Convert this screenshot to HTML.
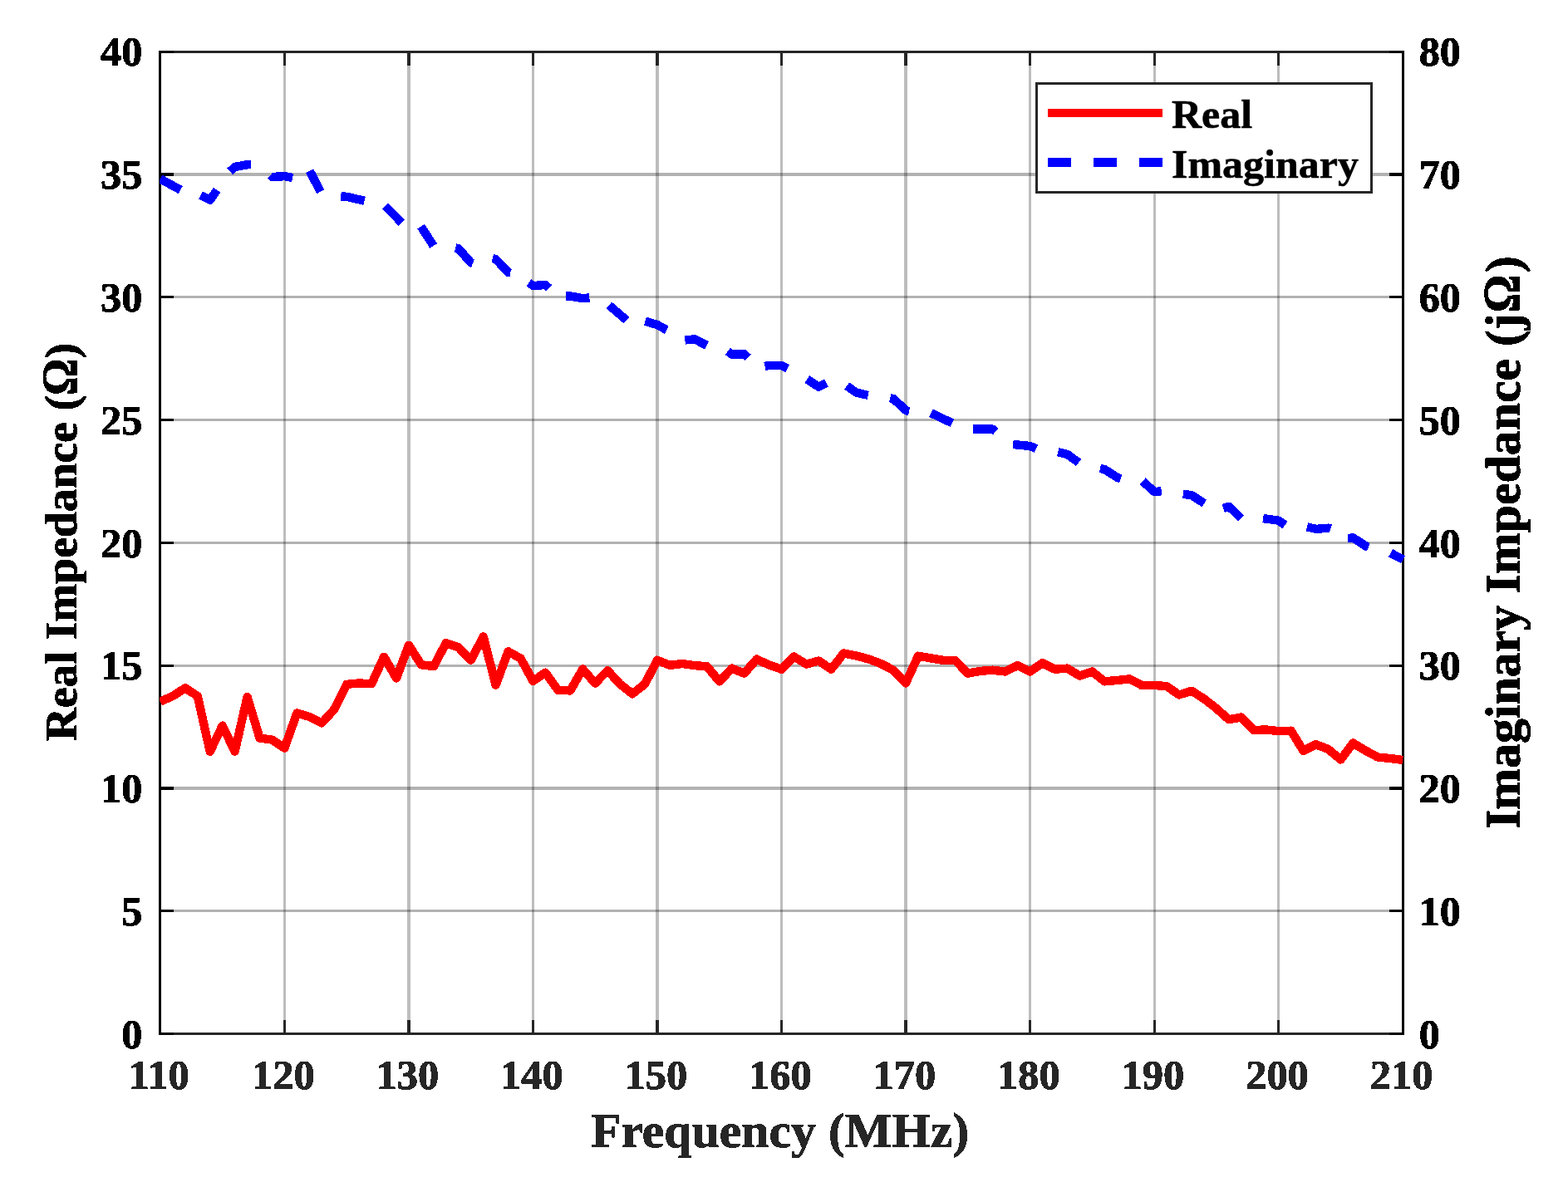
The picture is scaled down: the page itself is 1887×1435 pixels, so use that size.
<!DOCTYPE html>
<html lang="en"><head><meta charset="utf-8"><title>Impedance vs Frequency</title>
<style>
html,body{margin:0;padding:0;background:#fff;}
body{width:1887px;height:1435px;overflow:hidden;}
svg{display:block;}
text{font-family:"Liberation Serif","DejaVu Serif",serif;font-weight:bold;}
</style></head><body>
<svg width="1887" height="1435" viewBox="0 0 1887 1435">
<rect x="0" y="0" width="1887" height="1435" fill="#ffffff"/>
<g fill="#262626" fill-opacity="0.3" shape-rendering="crispEdges">
<rect x="341" y="64" width="3" height="1179"/>
<rect x="490" y="64" width="4" height="1179"/>
<rect x="640" y="64" width="3" height="1179"/>
<rect x="789" y="64" width="4" height="1179"/>
<rect x="939" y="64" width="3" height="1179"/>
<rect x="1088" y="64" width="4" height="1179"/>
<rect x="1238" y="64" width="3" height="1179"/>
<rect x="1388" y="64" width="3" height="1179"/>
<rect x="1537" y="64" width="3" height="1179"/>
</g>
<g fill="#000000" fill-opacity="0.3" shape-rendering="crispEdges">
<rect x="194" y="1095" width="1493" height="3"/>
<rect x="194" y="947" width="1493" height="4"/>
<rect x="194" y="800" width="1493" height="3"/>
<rect x="194" y="652" width="1493" height="3"/>
<rect x="194" y="504" width="1493" height="3"/>
<rect x="194" y="356" width="1493" height="3"/>
<rect x="194" y="208" width="1493" height="4"/>
</g>
<g fill="#262626" shape-rendering="crispEdges">
<rect x="191" y="1243" width="1499" height="3"/>
<rect x="191" y="61" width="1499" height="3"/>
<rect x="341" y="1228" width="3" height="15"/>
<rect x="341" y="64" width="3" height="15"/>
<rect x="490" y="1228" width="4" height="15"/>
<rect x="490" y="64" width="4" height="15"/>
<rect x="640" y="1228" width="3" height="15"/>
<rect x="640" y="64" width="3" height="15"/>
<rect x="789" y="1228" width="4" height="15"/>
<rect x="789" y="64" width="4" height="15"/>
<rect x="939" y="1228" width="3" height="15"/>
<rect x="939" y="64" width="3" height="15"/>
<rect x="1088" y="1228" width="4" height="15"/>
<rect x="1088" y="64" width="4" height="15"/>
<rect x="1238" y="1228" width="3" height="15"/>
<rect x="1238" y="64" width="3" height="15"/>
<rect x="1388" y="1228" width="3" height="15"/>
<rect x="1388" y="64" width="3" height="15"/>
<rect x="1537" y="1228" width="3" height="15"/>
<rect x="1537" y="64" width="3" height="15"/>
</g>
<g fill="#000000" shape-rendering="crispEdges">
<rect x="191" y="61" width="3" height="1185"/>
<rect x="1687" y="61" width="3" height="1185"/>
<rect x="194" y="1243" width="15" height="3"/>
<rect x="1672" y="1243" width="15" height="3"/>
<rect x="194" y="1095" width="15" height="3"/>
<rect x="1672" y="1095" width="15" height="3"/>
<rect x="194" y="947" width="15" height="4"/>
<rect x="1672" y="947" width="15" height="4"/>
<rect x="194" y="800" width="15" height="3"/>
<rect x="1672" y="800" width="15" height="3"/>
<rect x="194" y="652" width="15" height="3"/>
<rect x="1672" y="652" width="15" height="3"/>
<rect x="194" y="504" width="15" height="3"/>
<rect x="1672" y="504" width="15" height="3"/>
<rect x="194" y="356" width="15" height="3"/>
<rect x="1672" y="356" width="15" height="3"/>
<rect x="194" y="208" width="15" height="4"/>
<rect x="1672" y="208" width="15" height="4"/>
<rect x="194" y="61" width="15" height="3"/>
<rect x="1672" y="61" width="15" height="3"/>
</g>
<defs>
<clipPath id="clipRed"><rect x="192" y="0" width="1497" height="1435"/></clipPath>
<clipPath id="clipBlue"><rect x="192" y="0" width="1600" height="1435"/></clipPath>
</defs>
<g fill="none" stroke-linejoin="round" stroke-linecap="butt" shape-rendering="crispEdges">
<polyline clip-path="url(#clipRed)" stroke="#ff0000" stroke-width="10.4" points="192.9,844.6 207.9,838.0 222.8,828.3 237.8,838.0 252.7,904.8 267.7,873.6 282.6,904.7 297.6,839.0 312.5,888.5 327.5,890.6 342.4,900.6 357.4,858.4 372.3,862.9 387.3,870.4 402.2,854.0 417.2,823.9 432.2,822.4 447.1,823.3 462.1,790.7 477.0,816.5 492.0,776.7 506.9,800.2 521.9,802.1 536.8,774.1 551.8,779.4 566.7,794.6 581.7,766.5 596.6,824.6 611.6,784.3 626.5,792.6 641.5,819.9 656.4,809.7 671.4,830.8 686.3,831.4 701.3,805.5 716.2,822.6 731.2,807.2 746.1,823.5 761.1,835.3 776.0,823.5 791.0,794.8 806.0,800.9 820.9,799.0 835.9,801.1 850.8,802.3 865.8,820.4 880.7,804.6 895.7,810.6 910.6,793.6 925.6,800.6 940.5,805.7 955.5,790.6 970.4,799.5 985.4,795.6 1000.3,805.7 1015.3,786.5 1030.2,789.4 1045.2,793.4 1060.1,799.0 1075.1,806.7 1090.0,822.4 1105.0,789.7 1119.9,792.3 1134.9,794.8 1149.8,795.3 1164.8,810.6 1179.8,807.9 1194.7,806.7 1209.7,808.5 1224.6,801.2 1239.6,808.5 1254.5,798.2 1269.5,805.7 1284.4,804.6 1299.4,813.6 1314.3,808.5 1329.3,820.4 1344.2,819.0 1359.2,817.4 1374.1,825.0 1389.1,825.0 1404.0,826.1 1419.0,836.5 1433.9,831.7 1448.9,841.2 1463.8,852.8 1478.8,866.2 1493.7,863.5 1508.7,879.1 1523.6,878.4 1538.6,880.2 1553.6,879.7 1568.5,903.8 1583.5,896.2 1598.4,901.9 1613.4,914.5 1628.3,894.5 1643.3,903.6 1658.2,911.6 1673.2,913.0 1688.1,915.0"/>
<g clip-path="url(#clipBlue)" stroke="#0000ff" stroke-width="10.4">
<polyline points="192.9,215.3 217.3,228.7"/>
<polyline points="241.4,235.1 252.8,240.6 261.1,228.7"/>
<polyline points="276.7,206.5 282.8,200.9 297.7,198.2 302.4,198.3"/>
<polyline points="325.5,211.1 327.5,212.9 342.5,212.2 352.1,213.9"/>
<polyline points="372.8,205.8 385.7,230.9"/>
<polyline points="410.3,236.3 417.4,236.8 438.6,241.8"/>
<polyline points="463.5,247.9 483.2,267.9"/>
<polyline points="506.6,272.6 521.7,296.0"/>
<polyline points="548.2,298.5 551.9,299.4 566.8,316.3 569.0,317.2"/>
<polyline points="592.8,311.1 596.7,312.1 611.9,328.0 614.3,328.4"/>
<polyline points="636.4,340.4 641.6,344.0 656.5,343.0 660.6,346.9"/>
<polyline points="681.0,356.5 686.4,356.5 701.5,359.2 709.3,358.4"/>
<polyline points="732.9,367.4 754.0,385.5"/>
<polyline points="776.4,386.7 791.2,391.1 802.4,397.3"/>
<polyline points="824.4,409.4 836.1,408.4 850.5,415.8"/>
<polyline points="875.8,422.9 880.9,426.7 895.8,426.3 900.1,430.4"/>
<polyline points="920.4,440.9 925.8,439.7 940.8,440.1 947.9,443.6"/>
<polyline points="971.3,456.5 985.2,465.7 994.4,460.9"/>
<polyline points="1019.1,464.5 1030.5,472.6 1044.7,475.9"/>
<polyline points="1071.3,479.1 1075.1,480.1 1090.7,494.3 1094.1,495.0"/>
<polyline points="1120.4,497.3 1145.8,509.2"/>
<polyline points="1171.1,516.5 1195.0,516.7 1198.2,519.4"/>
<polyline points="1219.1,535.0 1239.8,537.0 1246.9,540.2"/>
<polyline points="1273.3,544.1 1284.7,547.0 1298.1,556.9"/>
<polyline points="1323.9,564.0 1329.6,565.2 1344.5,574.8 1348.8,576.2"/>
<polyline points="1375.1,579.2 1389.5,592.3 1397.8,591.1"/>
<polyline points="1423.8,594.8 1434.3,596.3 1449.2,606.0"/>
<polyline points="1472.2,611.8 1479.0,609.7 1493.5,624.0"/>
<polyline points="1520.1,624.1 1538.9,626.7 1546.4,632.1"/>
<polyline points="1573.0,634.3 1583.8,636.9 1598.8,635.7 1601.3,636.5"/>
<polyline points="1622.2,647.9 1628.6,647.5 1643.7,657.5 1646.9,658.7"/>
<polyline points="1673.5,665.7 1688.5,673.7"/>
</g>
</g>
<defs><filter id="alias" filterUnits="userSpaceOnUse" x="0" y="0" width="1887" height="1435" color-interpolation-filters="sRGB"><feComponentTransfer><feFuncA type="discrete" tableValues="0 1 1"/></feComponentTransfer></filter></defs>
<g filter="url(#alias)">
<g class="ticks-left">
<text transform="translate(171.30 1261.80) scale(0.9850 1.0100)" text-anchor="end" font-size="51" fill="#000" stroke="#000" stroke-width="0.6" stroke-linejoin="round">0</text>
<text transform="translate(171.30 1114.00) scale(0.9850 1.0100)" text-anchor="end" font-size="51" fill="#000" stroke="#000" stroke-width="0.6" stroke-linejoin="round">5</text>
<text transform="translate(171.30 966.20) scale(0.9850 1.0100)" text-anchor="end" font-size="51" fill="#000" stroke="#000" stroke-width="0.6" stroke-linejoin="round">10</text>
<text transform="translate(171.30 818.40) scale(0.9850 1.0100)" text-anchor="end" font-size="51" fill="#000" stroke="#000" stroke-width="0.6" stroke-linejoin="round">15</text>
<text transform="translate(171.30 670.60) scale(0.9850 1.0100)" text-anchor="end" font-size="51" fill="#000" stroke="#000" stroke-width="0.6" stroke-linejoin="round">20</text>
<text transform="translate(171.30 522.80) scale(0.9850 1.0100)" text-anchor="end" font-size="51" fill="#000" stroke="#000" stroke-width="0.6" stroke-linejoin="round">25</text>
<text transform="translate(171.30 375.00) scale(0.9850 1.0100)" text-anchor="end" font-size="51" fill="#000" stroke="#000" stroke-width="0.6" stroke-linejoin="round">30</text>
<text transform="translate(171.30 227.20) scale(0.9850 1.0100)" text-anchor="end" font-size="51" fill="#000" stroke="#000" stroke-width="0.6" stroke-linejoin="round">35</text>
<text transform="translate(171.30 79.40) scale(0.9850 1.0100)" text-anchor="end" font-size="51" fill="#000" stroke="#000" stroke-width="0.6" stroke-linejoin="round">40</text>
</g>
<g class="ticks-right">
<text transform="translate(1707.70 1261.80) scale(0.9850 1.0100)" text-anchor="start" font-size="51" fill="#000" stroke="#000" stroke-width="0.6" stroke-linejoin="round">0</text>
<text transform="translate(1707.70 1114.00) scale(0.9850 1.0100)" text-anchor="start" font-size="51" fill="#000" stroke="#000" stroke-width="0.6" stroke-linejoin="round">10</text>
<text transform="translate(1707.70 966.20) scale(0.9850 1.0100)" text-anchor="start" font-size="51" fill="#000" stroke="#000" stroke-width="0.6" stroke-linejoin="round">20</text>
<text transform="translate(1707.70 818.40) scale(0.9850 1.0100)" text-anchor="start" font-size="51" fill="#000" stroke="#000" stroke-width="0.6" stroke-linejoin="round">30</text>
<text transform="translate(1707.70 670.60) scale(0.9850 1.0100)" text-anchor="start" font-size="51" fill="#000" stroke="#000" stroke-width="0.6" stroke-linejoin="round">40</text>
<text transform="translate(1707.70 522.80) scale(0.9850 1.0100)" text-anchor="start" font-size="51" fill="#000" stroke="#000" stroke-width="0.6" stroke-linejoin="round">50</text>
<text transform="translate(1707.70 375.00) scale(0.9850 1.0100)" text-anchor="start" font-size="51" fill="#000" stroke="#000" stroke-width="0.6" stroke-linejoin="round">60</text>
<text transform="translate(1707.70 227.20) scale(0.9850 1.0100)" text-anchor="start" font-size="51" fill="#000" stroke="#000" stroke-width="0.6" stroke-linejoin="round">70</text>
<text transform="translate(1707.70 79.40) scale(0.9850 1.0100)" text-anchor="start" font-size="51" fill="#000" stroke="#000" stroke-width="0.6" stroke-linejoin="round">80</text>
</g>
<g class="ticks-x">
<text transform="translate(191.32 1311.20) scale(0.9900 1.0100)" text-anchor="middle" font-size="51" fill="#262626" stroke="#262626" stroke-width="0.6" stroke-linejoin="round">110</text>
<text transform="translate(340.84 1311.20) scale(0.9900 1.0100)" text-anchor="middle" font-size="51" fill="#262626" stroke="#262626" stroke-width="0.6" stroke-linejoin="round">120</text>
<text transform="translate(490.36 1311.20) scale(0.9900 1.0100)" text-anchor="middle" font-size="51" fill="#262626" stroke="#262626" stroke-width="0.6" stroke-linejoin="round">130</text>
<text transform="translate(639.88 1311.20) scale(0.9900 1.0100)" text-anchor="middle" font-size="51" fill="#262626" stroke="#262626" stroke-width="0.6" stroke-linejoin="round">140</text>
<text transform="translate(789.40 1311.20) scale(0.9900 1.0100)" text-anchor="middle" font-size="51" fill="#262626" stroke="#262626" stroke-width="0.6" stroke-linejoin="round">150</text>
<text transform="translate(938.92 1311.20) scale(0.9900 1.0100)" text-anchor="middle" font-size="51" fill="#262626" stroke="#262626" stroke-width="0.6" stroke-linejoin="round">160</text>
<text transform="translate(1088.44 1311.20) scale(0.9900 1.0100)" text-anchor="middle" font-size="51" fill="#262626" stroke="#262626" stroke-width="0.6" stroke-linejoin="round">170</text>
<text transform="translate(1237.96 1311.20) scale(0.9900 1.0100)" text-anchor="middle" font-size="51" fill="#262626" stroke="#262626" stroke-width="0.6" stroke-linejoin="round">180</text>
<text transform="translate(1387.48 1311.20) scale(0.9900 1.0100)" text-anchor="middle" font-size="51" fill="#262626" stroke="#262626" stroke-width="0.6" stroke-linejoin="round">190</text>
<text transform="translate(1537.00 1311.20) scale(0.9900 1.0100)" text-anchor="middle" font-size="51" fill="#262626" stroke="#262626" stroke-width="0.6" stroke-linejoin="round">200</text>
<text transform="translate(1686.52 1311.20) scale(0.9900 1.0100)" text-anchor="middle" font-size="51" fill="#262626" stroke="#262626" stroke-width="0.6" stroke-linejoin="round">210</text>
</g>
<text transform="translate(938.50 1381.00) scale(1.0080 0.9850)" text-anchor="middle" font-size="59.3" fill="#262626" stroke="#262626" stroke-width="0.6" stroke-linejoin="round">Frequency (MHz)</text>
<g class="ylabel-left">
<text transform="translate(92.00 892.30) rotate(-90)" font-size="55.5" fill="#000" stroke="#000" stroke-width="0.6" stroke-linejoin="round"><tspan x="0" text-anchor="start">Real Impedance (</tspan><tspan x="438.30" text-anchor="middle" font-size="61.2" textLength="44.25" lengthAdjust="spacingAndGlyphs">&#937;</tspan><tspan x="479.30" text-anchor="end">)</tspan></text>
</g>
<g class="ylabel-right">
<text transform="translate(1828.60 998.00) rotate(-90)" font-size="59.75" fill="#000" stroke="#000" stroke-width="0.6" stroke-linejoin="round"><tspan x="0" text-anchor="start">Imaginary Impedance (j</tspan><tspan x="644.60" text-anchor="middle" font-size="64.2" textLength="45.81" lengthAdjust="spacingAndGlyphs">&#937;</tspan><tspan x="690.00" text-anchor="end">)</tspan></text>
</g>
<g shape-rendering="crispEdges">
<rect x="1247.5" y="100.5" width="403" height="131" fill="#ffffff" stroke="#262626" stroke-width="3"/>
<rect x="1261" y="131" width="138" height="10" fill="#ff0000"/>
<rect x="1261" y="190" width="28" height="11" fill="#0000ff"/>
<rect x="1316" y="190" width="28" height="11" fill="#0000ff"/>
<rect x="1371" y="190" width="28" height="11" fill="#0000ff"/>
</g>
<text transform="translate(1410.00 153.90) scale(1.0000 0.9800)" text-anchor="start" font-size="50" fill="#000" stroke="#000" stroke-width="0.6" stroke-linejoin="round">Real</text>
<text transform="translate(1410.00 213.60) scale(1.0000 0.9800)" text-anchor="start" font-size="50" fill="#000" stroke="#000" stroke-width="0.6" stroke-linejoin="round">Imaginary</text>
</g>
</svg>
</body></html>
